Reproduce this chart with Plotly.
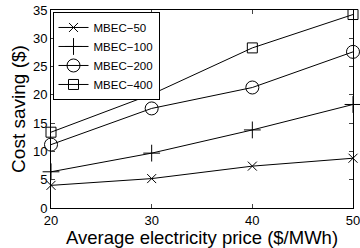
import plotly.graph_objects as go

prices = [20, 30, 40, 50]
mbec50 = [4.0, 5.2, 7.4, 8.8]
mbec100 = [6.4, 9.7, 13.8, 18.3]
mbec200 = [11.2, 17.6, 21.3, 27.6]
mbec400 = [13.4, 20.1, 28.3, 34.2]
y_ticks = [0, 5, 10, 15, 20, 25, 30, 35]

series = [
    ("MBEC\u221250", mbec50, "x-thin-open", 9),
    ("MBEC\u2212100", mbec100, "cross-thin-open", 12),
    ("MBEC\u2212200", mbec200, "circle-open", 13),
    ("MBEC\u2212400", mbec400, "square-open", 10),
]

fig = go.Figure()
for name, vals, sym, sz in series:
    fig.add_trace(go.Scatter(
        x=prices, y=vals, name=name, mode="lines+markers",
        line=dict(color="black", width=1),
        marker=dict(symbol=sym, size=sz, color="black", line=dict(color="black", width=1)),
        cliponaxis=False,
    ))

fig.update_layout(
    width=360, height=248,
    margin=dict(l=51, r=7, t=10, b=40),
    paper_bgcolor="white", plot_bgcolor="white",
    font=dict(family="Liberation Sans, Arial", size=13, color="black"),
    showlegend=True,
    legend=dict(x=0.005, y=0.99, xanchor="left", yanchor="top",
                bgcolor="white", bordercolor="black", borderwidth=1,
                font=dict(size=11.5), tracegroupgap=0, itemwidth=30),
)
fig.update_xaxes(
    range=[20, 50], tickvals=prices, ticks="inside", ticklen=4,
    showline=True, linecolor="black", linewidth=1, mirror="ticks",
    showgrid=False, zeroline=False, automargin=False,
    ticklabeloverflow="allow",
    tickfont=dict(size=13),
    title=dict(text="Average electricity price ($/MWh)", font=dict(size=18.5), standoff=0),
)
fig.update_yaxes(
    range=[0, 35], tickvals=y_ticks, ticks="inside", ticklen=4,
    showline=True, linecolor="black", linewidth=1, mirror="ticks",
    showgrid=False, zeroline=False, automargin=False,
    ticklabeloverflow="allow",
    tickfont=dict(size=13),
    title=dict(text="Cost saving ($)", font=dict(size=19), standoff=2),
)

fig.write_html("out.html", config={"displayModeBar": False},
               post_script="document.body.style.margin='0';")
